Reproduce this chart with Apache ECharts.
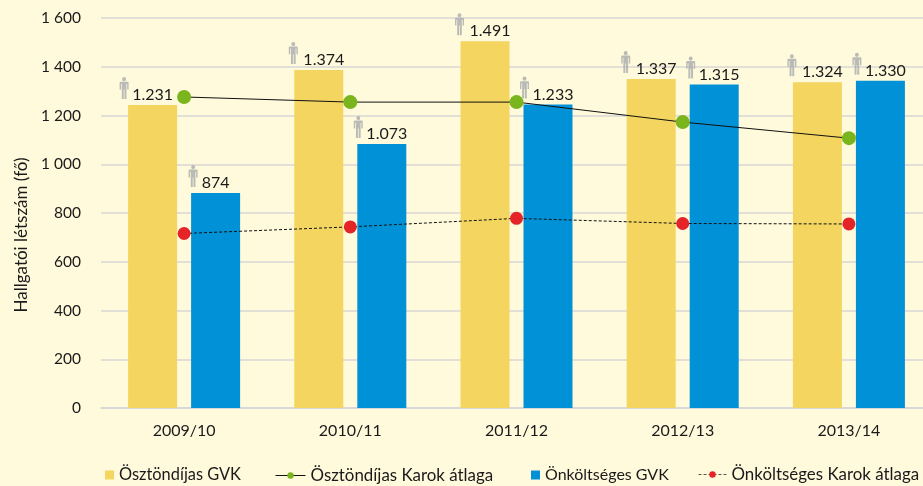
<!DOCTYPE html>
<html><head><meta charset="utf-8">
<style>html,body{margin:0;padding:0;background:#FFFADC}#c{width:923px;height:486px}</style>
<script src="https://cdn.jsdelivr.net/npm/echarts@6/dist/echarts.min.js"></script>
</head><body><div id="c"></div>
<script>
const categories = ['2009/10','2010/11','2011/12','2012/13','2013/14'];
const osztondijasGVK = [1231,1374,1491,1337,1324];
const onkoltsegesGVK = [874,1073,1233,1315,1330];
const osztondijasKarok = [1276,1255,1255,1173,1107];
const onkoltsegesKarok = [716,743,778,757,755];
const yTicks = [0,200,400,600,800,1000,1200,1400,1600];

const FONT = 'Lato';
const person = 'path://M50 0a22 22 0 1 1-.01 0zM12 48h76q12 0 12 12v70h-16v-60h-8v160h-22v-100h-8v100h-22v-160h-8v60h-16v-70q0-12 12-12z';
const dot = s => String(s).replace(/\B(?=\d{3}$)/,'.');
const barItems = arr => arr.map((v,i)=>({value:v,label:{offset:[i===0?0:5,0]}}));
const barLabel = {show:true,position:'top',distance:2,color:'#1a1a1a',fontFamily:FONT,fontSize:16,formatter:p=>dot(p.value)};
const icons = (arr,dx,firstDx) => ({type:'scatter',yAxisIndex:1,
  data:arr.map((v,i)=>({value:v,symbolOffset:[i===0?firstDx:dx,-17]})),
  symbol:person,symbolSize:[9,22],itemStyle:{color:'#A9ABAE'},silent:true,z:3,tooltip:{show:false}});
const legendText = s => ({color:'#1a1a1a',fontFamily:FONT,fontSize:s});
const sq = 'path://M0 0h10v10h-10z';

echarts.init(document.getElementById('c'),null,{renderer:'canvas'}).setOption({
  animation:false,
  backgroundColor:'#FFFADC',
  grid:{left:101,right:-9,top:18,bottom:78,outerBoundsMode:'none'},
  legend:[
    {data:['Ösztöndíjas GVK'],left:105,top:467,itemWidth:9,itemHeight:9,icon:sq,itemGap:5,textStyle:legendText(16.4),padding:0},
    {data:['Ösztöndíjas Karok átlaga'],left:275,top:467,itemWidth:30,itemHeight:8,itemGap:4,textStyle:legendText(16.9),padding:0,lineStyle:{width:1}},
    {data:['Önköltséges GVK'],left:531,top:467,itemWidth:9,itemHeight:9,icon:sq,itemGap:5,textStyle:legendText(16),padding:0},
    {data:['Önköltséges Karok átlaga'],left:698,top:466,itemWidth:28,itemHeight:8,itemGap:3,textStyle:legendText(16.9),padding:0,lineStyle:{width:1,color:'#555'}}
  ],
  xAxis:{type:'category',data:categories,
    axisLine:{lineStyle:{color:'#D5D5DC',width:1.5}},axisTick:{show:false},
    axisLabel:{color:'#1a1a1a',fontFamily:FONT,fontSize:16,margin:15}},
  yAxis:[
    {type:'value',min:yTicks[0],max:yTicks[yTicks.length-1],interval:200,
     name:'Hallgatói létszám (fő)',nameLocation:'middle',nameGap:67,
     nameTextStyle:{color:'#1a1a1a',fontFamily:FONT,fontSize:17,padding:[0,44,0,0]},
     axisLine:{show:false},axisTick:{show:false},
     axisLabel:{color:'#1a1a1a',fontFamily:FONT,fontSize:15.5,margin:20,
       formatter:v=>String(v).replace(/\B(?=\d{3}$)/,' ')},
     splitLine:{lineStyle:{color:'#D9D7D5',width:1.5}}},
    {type:'value',min:0,max:1585,show:false,splitLine:{show:false}}
  ],
  series:[
    {name:'Ösztöndíjas GVK',type:'bar',yAxisIndex:1,data:barItems(osztondijasGVK),barWidth:49,barGap:'28.6%',
     itemStyle:{color:'#F3D55F'},label:barLabel},
    {name:'Önköltséges GVK',type:'bar',yAxisIndex:1,data:barItems(onkoltsegesGVK),barWidth:49,barGap:'28.6%',
     itemStyle:{color:'#0091D7'},label:barLabel},
    icons(osztondijasGVK,-57,-60), icons(onkoltsegesGVK,8,9),
    {name:'Ösztöndíjas Karok átlaga',type:'line',data:osztondijasKarok,symbol:'circle',symbolSize:14,z:5,
     lineStyle:{color:'#111',width:1},itemStyle:{color:'#7AB51D'}},
    {name:'Önköltséges Karok átlaga',type:'line',data:onkoltsegesKarok,symbol:'circle',symbolSize:13,z:5,
     lineStyle:{color:'#111',width:1,type:[3,2]},itemStyle:{color:'#E52428'}}
  ]
});
</script></body></html>
